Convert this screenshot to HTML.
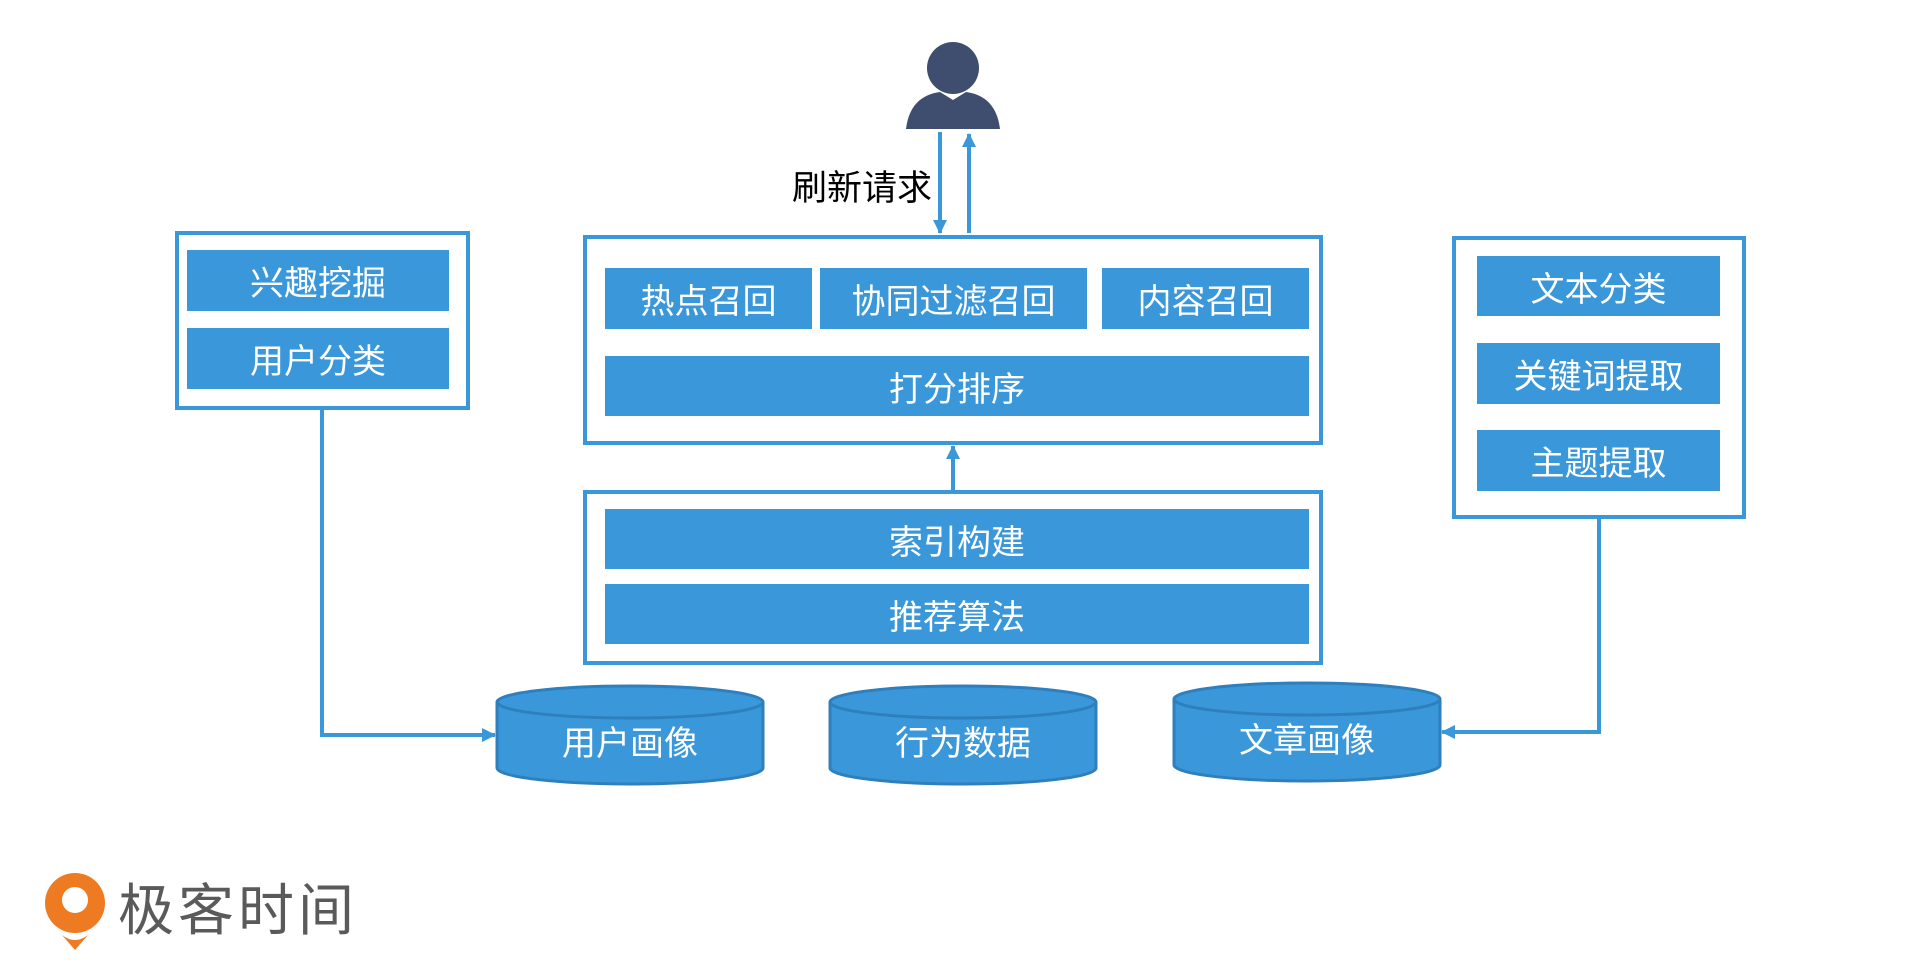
<!DOCTYPE html>
<html><head><meta charset="utf-8"><style>
body{margin:0;width:1920px;height:969px;background:#fff;position:relative;overflow:hidden;font-family:"Liberation Sans","Noto Sans CJK SC",sans-serif}
.box{position:absolute;border:4px solid #3a97da;box-sizing:border-box}
.bar{position:absolute;background:#3a97da;color:#fff;font-size:34px;display:flex;align-items:center;justify-content:center;box-sizing:border-box}
</style></head><body>
<div class="box" style="left:175px;top:231px;width:295px;height:179px"></div>
<div class="bar" style="left:187px;top:250px;width:262px;height:61px">兴趣挖掘</div>
<div class="bar" style="left:187px;top:328px;width:262px;height:61px">用户分类</div>

<div class="box" style="left:583px;top:235px;width:740px;height:210px"></div>
<div class="bar" style="left:605px;top:268px;width:207px;height:61px">热点召回</div>
<div class="bar" style="left:820px;top:268px;width:267px;height:61px">协同过滤召回</div>
<div class="bar" style="left:1102px;top:268px;width:207px;height:61px">内容召回</div>
<div class="bar" style="left:605px;top:356px;width:704px;height:60px">打分排序</div>

<div class="box" style="left:583px;top:490px;width:740px;height:175px"></div>
<div class="bar" style="left:605px;top:509px;width:704px;height:60px">索引构建</div>
<div class="bar" style="left:605px;top:584px;width:704px;height:60px">推荐算法</div>

<div class="box" style="left:1452px;top:236px;width:294px;height:283px"></div>
<div class="bar" style="left:1477px;top:256px;width:243px;height:60px">文本分类</div>
<div class="bar" style="left:1477px;top:343px;width:243px;height:61px">关键词提取</div>
<div class="bar" style="left:1477px;top:430px;width:243px;height:61px">主题提取</div>

<div style="position:absolute;left:792px;top:160px;font-size:35px;color:#000">刷新请求</div>

<svg width="1920" height="969" style="position:absolute;left:0;top:0">
<defs>
<marker id="b" markerWidth="14" markerHeight="14" refX="13" refY="7" orient="auto" markerUnits="userSpaceOnUse"><path d="M0,0 L14,7 L0,14z" fill="#3a97da"/></marker></defs>
<g stroke="#3a97da" stroke-width="4" fill="none">
<polyline points="322,410 322,735 495,735" marker-end="url(#b)"/>
<polyline points="1599,519 1599,732 1442,732" marker-end="url(#b)"/>
<line x1="953" y1="490" x2="953" y2="446" marker-end="url(#b)"/>
<line x1="940" y1="132" x2="940" y2="233" marker-end="url(#b)"/>
<line x1="969" y1="233" x2="969" y2="134" marker-end="url(#b)"/>
</g>
<g fill="#3f4e6e">
<circle cx="953" cy="68" r="26"/>
<path d="M906,129 Q910,96 940,92 L953,100 L966,92 Q996,96 1000,129 Z"/>
</g>
<g fill="#3a97da" stroke="#2f7fbd" stroke-width="3">
<path d="M497,702 L497,768 A133,16 0 0 0 763,768 L763,702"/>
<ellipse cx="630" cy="702" rx="133" ry="16"/>
<path d="M830,702 L830,768 A133,16 0 0 0 1096,768 L1096,702"/>
<ellipse cx="963" cy="702" rx="133" ry="16"/>
<path d="M1174,699 L1174,765 A133,16 0 0 0 1440,765 L1440,699"/>
<ellipse cx="1307" cy="699" rx="133" ry="16"/>
</g>
<g fill="#fff" font-size="34" text-anchor="middle" font-family="Liberation Sans,Noto Sans CJK SC,sans-serif">
<text x="630" y="755">用户画像</text>
<text x="963" y="755">行为数据</text>
<text x="1307" y="752">文章画像</text>
</g>
<circle cx="75" cy="903" r="30" fill="#ee7b22"/>
<circle cx="75" cy="900" r="13" fill="#fff"/>
<path d="M62,935 Q75,945 88,935 L75,950z" fill="#ee7b22"/>
<text x="118" y="930" font-size="56" fill="#5a5a5a" font-family="Noto Sans CJK SC,sans-serif" textLength="236" lengthAdjust="spacing">极客时间</text>
</svg>
</body></html>
